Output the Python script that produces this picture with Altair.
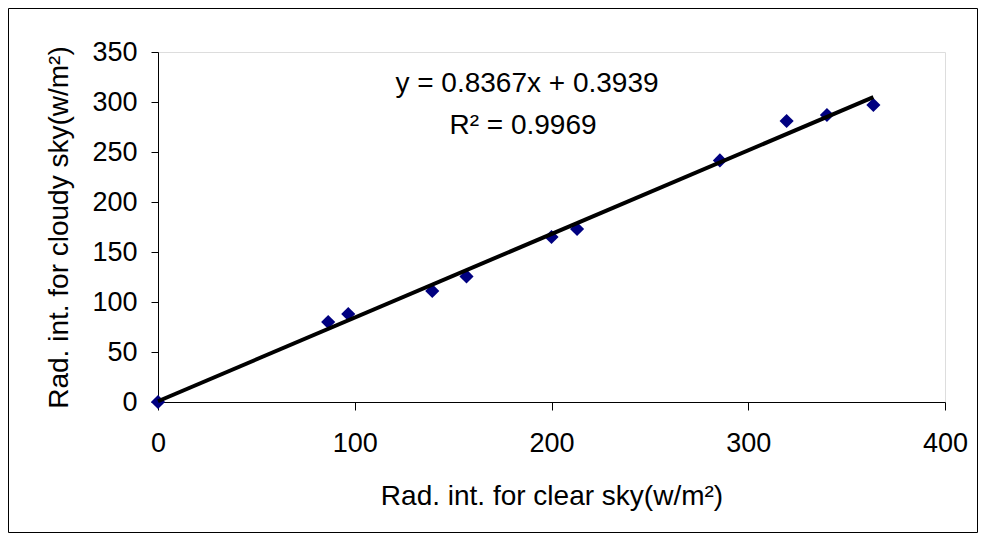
import altair as alt
import pandas as pd

# Data
clear_sky = [0, 86.5, 96.7, 139.4, 156.8, 200, 213, 285.6, 319.5, 340, 363.6]
cloudy_sky = [0, 80, 88, 111, 125.6, 165, 173, 241.6, 281, 287, 297]
eq_lines = ["y = 0.8367x + 0.3939", "R² = 0.9969"]

x_ticks = [0, 100, 200, 300, 400]
y_ticks = [0, 50, 100, 150, 200, 250, 300, 350]

df = pd.DataFrame({"clear": clear_sky, "cloudy": cloudy_sky})
FONT = "Liberation Sans"

W, H = 787, 350

x_enc = alt.X("clear:Q", scale=alt.Scale(domain=[0, 400], nice=False, zero=True),
              axis=alt.Axis(values=x_ticks, title="Rad. int. for clear sky(w/m²)",
                            grid=False, domainColor="black", tickColor="black",
                            tickSize=8, labelFontSize=27, labelPadding=20,
                            labelFont=FONT, labelColor="black", titleFont=FONT,
                            titleFontSize=28, titleFontWeight="normal", titleColor="black",
                            titleY=80, titleBaseline="top", labelFlush=False))
y_enc = alt.Y("cloudy:Q", scale=alt.Scale(domain=[0, 350], nice=False, zero=True),
              axis=alt.Axis(values=y_ticks, title="Rad. int. for cloudy sky(w/m²)",
                            grid=False, domainColor="black", tickColor="black",
                            tickSize=7, labelFontSize=27, labelPadding=14,
                            labelFont=FONT, labelColor="black", titleFont=FONT,
                            titleFontSize=28, titleFontWeight="normal", titleColor="black",
                            titleX=-85, titleAngle=270, titleBaseline="bottom",
                            labelFlush=False))

trend = alt.Chart(df).transform_regression("clear", "cloudy").mark_line(
    color="black", strokeWidth=4).encode(x="clear:Q", y="cloudy:Q")

points = alt.Chart(df).mark_point(shape="diamond", filled=True, color="#000080",
                                  size=200, opacity=1).encode(x=x_enc, y=y_enc)

eq_df = pd.DataFrame({"t": eq_lines, "px": [369, 365], "py": [40, 82]})
eq_text = alt.Chart(eq_df).mark_text(font=FONT, fontSize=28, color="black",
                                     align="center", baseline="alphabetic").encode(
    text="t:N", x=alt.X("px:Q", scale=None), y=alt.Y("py:Q", scale=None))

border = alt.Chart(pd.DataFrame({"k": [0]})).mark_rect(
    fill="white", fillOpacity=0, stroke="black", strokeWidth=1).encode(
    x=alt.value(-149.5), x2=alt.value(819.5), y=alt.value(-43.5), y2=alt.value(480.5))

chart = alt.layer(border, points, trend, eq_text).properties(
    width=W, height=H,
    autosize=alt.AutoSizeParams(type="none"),
    padding={"left": 150, "top": 44, "right": 33, "bottom": 131},
).configure_view(stroke=None).configure(background="white")

chart.save("out.html", embed_options={"renderer": "svg", "actions": False})
